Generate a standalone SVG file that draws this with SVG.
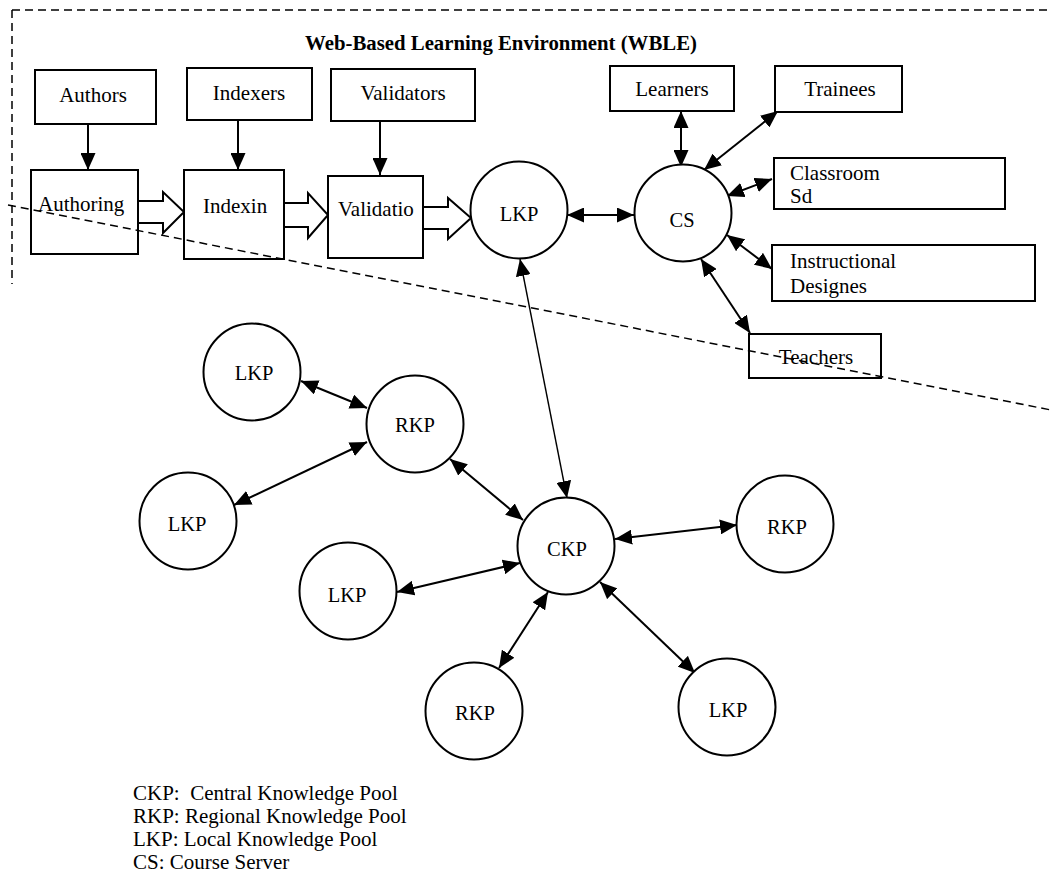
<svg xmlns="http://www.w3.org/2000/svg" width="1051" height="881" viewBox="0 0 1051 881">
<defs>
<marker id="ah" viewBox="0 0 17 15" refX="17" refY="7.5" markerWidth="17" markerHeight="15" markerUnits="userSpaceOnUse" orient="auto-start-reverse">
<path d="M0,0 L17,7.5 L0,15 z" fill="#000"/>
</marker>
</defs>
<style>
text{font-family:"Liberation Serif","Times New Roman",serif;fill:#000}
.box{fill:#fff;stroke:#000;stroke-width:2}
.circ{fill:#fff;stroke:#000;stroke-width:2}
.bl{font-size:21px;text-anchor:middle}
.ll{font-size:21px}
.cl{font-size:20.5px;text-anchor:middle}
.hollow{fill:#fff;stroke:#000;stroke-width:2;stroke-linejoin:miter}
.bi{stroke:#000;stroke-width:2;fill:none;marker-start:url(#ah);marker-end:url(#ah)}
.uni{stroke:#000;stroke-width:2;fill:none;marker-end:url(#ah)}
.thin{stroke:#000;stroke-width:1.4;fill:none;marker-start:url(#ah);marker-end:url(#ah)}
.dash{stroke:#000;stroke-width:1.5;fill:none;stroke-dasharray:8 5}
.leg{font-size:21px}
</style>
<rect width="1051" height="881" fill="#fff"/>

<g id="boundary">
<path class="dash" d="M12,10 L1051,10 M12,10 L12,284"/>
</g>
<text x="501" y="50" font-size="20.8" font-weight="bold" text-anchor="middle">Web-Based Learning Environment (WBLE)</text>

<g id="connectors">
<path class="uni" d="M88,124 L88,170"/>
<path class="uni" d="M238,120 L238,170"/>
<path class="uni" d="M380,121 L380,175"/>
<path class="hollow" d="M138,201 L163,201 L163,192 L184,212 L163,233 L163,223 L138,223"/>
<path class="hollow" d="M284,203 L308,203 L308,193 L328,215 L308,238 L308,227 L284,227"/>
<path class="hollow" d="M423,207 L448,207 L448,198 L471,218 L448,239 L448,229 L423,229"/>
<path class="bi" d="M567,215 L634,215"/>
<path class="bi" d="M681,111 L681,167"/>
<path class="bi" d="M778,111 L704,170"/>
<path class="bi" d="M772,179 L727,196"/>
<path class="bi" d="M727,235 L772,269"/>
<path class="bi" d="M701,259 L750,333"/>
<path class="thin" d="M520,259 L567,498"/>
<path class="bi" d="M301,381 L367,408"/>
<path class="bi" d="M367,442 L234,505"/>
<path class="bi" d="M450,459 L523,520"/>
<path class="bi" d="M397,592 L520,563"/>
<path class="bi" d="M499,668 L548,592"/>
<path class="bi" d="M615,539 L737,525"/>
<path class="bi" d="M600,582 L695,673"/>
</g>

<g id="authors"><rect class="box" x="35" y="70" width="121" height="54"/><text class="bl" x="93" y="102">Authors</text></g>
<g id="indexers"><rect class="box" x="187" y="68" width="125" height="52"/><text class="bl" x="249" y="100">Indexers</text></g>
<g id="validators"><rect class="box" x="331" y="69" width="144" height="52"/><text class="bl" x="403" y="100">Validators</text></g>
<g id="authoring"><rect class="box" x="31" y="170" width="107" height="84"/><text class="ll" x="38" y="211">Authoring</text></g>
<g id="indexin"><rect class="box" x="184" y="170" width="100" height="89"/><text class="ll" x="203" y="213">Indexin</text></g>
<g id="validatio"><rect class="box" x="328" y="176" width="95" height="82"/><text class="ll" x="338" y="216">Validatio</text></g>

<g id="lkp-top"><circle class="circ" cx="519" cy="210" r="48.5"/><text class="cl" x="519" y="221">LKP</text></g>
<g id="cs"><circle class="circ" cx="683" cy="213" r="48.5"/><text class="cl" x="682" y="227">CS</text></g>

<g id="learners"><rect class="box" x="610" y="66" width="124" height="45"/><text class="bl" x="672" y="96">Learners</text></g>
<g id="trainees"><rect class="box" x="775" y="66" width="127" height="46"/><text class="bl" x="840" y="96">Trainees</text></g>
<g id="classroom"><rect class="box" x="774" y="158" width="231" height="51"/><text class="ll" x="790" y="180">Classroom</text><text class="ll" x="790" y="203">Sd</text></g>
<g id="instructional"><rect class="box" x="772" y="245" width="263" height="56"/><text class="ll" x="790" y="268">Instructional</text><text class="ll" x="790" y="293">Designes</text></g>
<g id="teachers"><rect class="box" x="749" y="334" width="132" height="44"/><text class="bl" x="816" y="364">Teachers</text></g>

<g id="ckp"><circle class="circ" cx="566" cy="546" r="48.5"/><text class="cl" x="567" y="556">CKP</text></g>
<g id="rkp-right"><circle class="circ" cx="785" cy="524" r="48.5"/><text class="cl" x="787" y="534">RKP</text></g>
<g id="lkp-br"><circle class="circ" cx="727" cy="707" r="48.5"/><text class="cl" x="728" y="717">LKP</text></g>
<g id="lkp-tl"><circle class="circ" cx="252" cy="372" r="48.5"/><text class="cl" x="254" y="380">LKP</text></g>
<g id="rkp-mid"><circle class="circ" cx="415" cy="424" r="48.5"/><text class="cl" x="415" y="432">RKP</text></g>
<g id="lkp-left"><circle class="circ" cx="188" cy="521" r="48.5"/><text class="cl" x="187" y="531">LKP</text></g>
<g id="lkp-mid"><circle class="circ" cx="348" cy="591" r="48.5"/><text class="cl" x="347" y="602">LKP</text></g>
<g id="rkp-bottom"><circle class="circ" cx="474" cy="711" r="48.5"/><text class="cl" x="475" y="720">RKP</text></g>

<g id="divider">
<path class="dash" d="M8,205 L1051,410" stroke-dasharray="10 6"/>
</g>

<g id="legend">
<text class="leg" x="133" y="800" xml:space="preserve">CKP:  Central Knowledge Pool</text>
<text class="leg" x="133" y="823">RKP: Regional Knowledge Pool</text>
<text class="leg" x="133" y="846">LKP: Local Knowledge Pool</text>
<text class="leg" x="133" y="869">CS: Course Server</text>
</g>
</svg>
